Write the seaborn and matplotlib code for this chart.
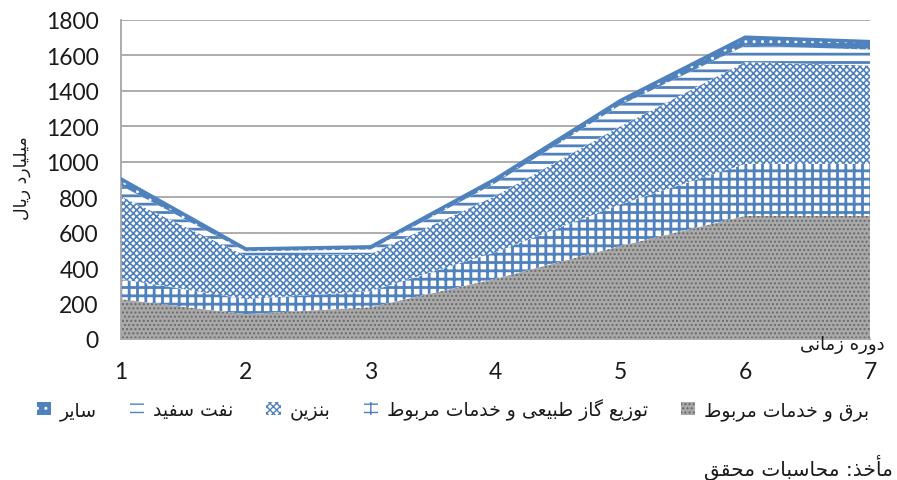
import numpy as np
import seaborn as sns
import matplotlib.pyplot as plt
from matplotlib.patches import Patch

# values (billion rials), stacked bottom -> top
periods = [1, 2, 3, 4, 5, 6, 7]
barq = [225, 140, 180, 340, 525, 695, 695]       # electricity
gas = [113, 85, 90, 150, 235, 293, 293]          # gas distribution
benzin = [467, 245, 210, 318, 440, 575, 555]     # gasoline
naft = [60, 25, 25, 72, 120, 92, 90]             # kerosene
sayer = [38, 13, 15, 23, 25, 48, 45]             # other
yticks = list(range(0, 1801, 200))

# persian labels (logical order, shaped below)
lbl_barq = "برق و خدمات مربوط"
lbl_gas = "توزیع گاز طبیعی و خدمات مربوط"
lbl_benzin = "بنزین"
lbl_naft = "نفت سفید"
lbl_sayer = "سایر"
ylabel = "میلیارد ریال"
xlabel = "دوره زمانی"
source = "مأخذ: محاسبات محقق"

# presentation forms: isolated, final, initial, medial
FORMS = {
    'ا': ('\uFE8D', '\uFE8E', None, None),
    'أ': ('\uFE83', '\uFE84', None, None),
    'ب': ('\uFE8F', '\uFE90', '\uFE91', '\uFE92'),
    'ت': ('\uFE95', '\uFE96', '\uFE97', '\uFE98'),
    'ح': ('\uFEA1', '\uFEA2', '\uFEA3', '\uFEA4'),
    'خ': ('\uFEA5', '\uFEA6', '\uFEA7', '\uFEA8'),
    'د': ('\uFEA9', '\uFEAA', None, None),
    'ذ': ('\uFEAB', '\uFEAC', None, None),
    'ر': ('\uFEAD', '\uFEAE', None, None),
    'ز': ('\uFEAF', '\uFEB0', None, None),
    'س': ('\uFEB1', '\uFEB2', '\uFEB3', '\uFEB4'),
    'ط': ('\uFEC1', '\uFEC2', '\uFEC3', '\uFEC4'),
    'ع': ('\uFEC9', '\uFECA', '\uFECB', '\uFECC'),
    'ف': ('\uFED1', '\uFED2', '\uFED3', '\uFED4'),
    'ق': ('\uFED5', '\uFED6', '\uFED7', '\uFED8'),
    'ل': ('\uFEDD', '\uFEDE', '\uFEDF', '\uFEE0'),
    'م': ('\uFEE1', '\uFEE2', '\uFEE3', '\uFEE4'),
    'ن': ('\uFEE5', '\uFEE6', '\uFEE7', '\uFEE8'),
    'ه': ('\uFEE9', '\uFEEA', '\uFEEB', '\uFEEC'),
    'و': ('\uFEED', '\uFEEE', None, None),
    'ی': ('\uFBFC', '\uFBFD', '\uFBFE', '\uFBFF'),
    'گ': ('\uFB92', '\uFB93', '\uFB94', '\uFB95'),
}


def shape(text):
    out = []
    for i, c in enumerate(text):
        if c not in FORMS:
            out.append(c)
            continue
        iso, fin, ini, med = FORMS[c]
        prev = text[i - 1] if i > 0 else None
        nxt = text[i + 1] if i + 1 < len(text) else None
        joins_prev = prev in FORMS and FORMS[prev][2] is not None
        joins_next = ini is not None and nxt in FORMS
        if joins_prev and joins_next:
            out.append(med)
        elif joins_prev:
            out.append(fin)
        elif joins_next:
            out.append(ini)
        else:
            out.append(iso)
    return ''.join(reversed(out))


sns.set_theme(style="white")
plt.rcParams['font.family'] = ['Lato', 'DejaVu Sans']
fa = ['DejaVu Sans']

blue = '#4f81bd'
grey_grid = '#a6a6a6'
txt = '#1a1a1a'

fig = plt.figure(figsize=(8.97, 4.81), dpi=100)
ax = fig.add_axes([121 / 897, 1 - 340 / 481, (870 - 121) / 897, (340 - 21) / 481])

x = np.array(periods)
layers = [barq, gas, benzin, naft, sayer]
tops = np.cumsum(np.array(layers), axis=0)
bottoms = np.vstack([np.zeros(len(x)), tops[:-1]])

styles = [
    dict(facecolor='#a9a9a9', edgecolor='#6a6a6a', hatch='....', hlw=1.0),
    dict(facecolor='white', edgecolor=blue, hatch='++', hlw=2.0),
    dict(facecolor='white', edgecolor=blue, hatch='xxxxx', hlw=1.2),
    dict(facecolor='white', edgecolor=blue, hatch='--', hlw=2.0),
    dict(facecolor=blue, edgecolor='white', hatch='..', hlw=1.0),
]
labels = [lbl_barq, lbl_gas, lbl_benzin, lbl_naft, lbl_sayer]

handles = []
for bot, top, st, lab in zip(bottoms, tops, styles, labels):
    plt.rcParams['hatch.linewidth'] = st['hlw']
    ax.fill_between(x, bot, top, facecolor=st['facecolor'], edgecolor=st['edgecolor'],
                    hatch=st['hatch'], linewidth=0, zorder=2)
    handles.append(Patch(facecolor=st['facecolor'], edgecolor=st['edgecolor'],
                         hatch=st['hatch'], linewidth=0, label=shape(lab)))

# outline of the top band
sns.lineplot(x=x, y=tops[-1], color=blue, linewidth=2.5, ax=ax, zorder=3)

ax.set_xlim(1, 7)
ax.set_ylim(0, 1800)
ax.set_yticks(yticks)
ax.set_xticks(periods)
ax.yaxis.grid(True, color=grey_grid, linewidth=1.3)
ax.set_axisbelow(True)
for s in ['top', 'right']:
    ax.spines[s].set_visible(False)
for s in ['left', 'bottom']:
    ax.spines[s].set_color(grey_grid)
    ax.spines[s].set_linewidth(1.3)
ax.tick_params(axis='y', length=0, pad=16, labelsize=16.5, colors=txt)
ax.tick_params(axis='x', length=0, pad=16, labelsize=16.5, colors=txt)
ax.set_xlabel('')
ax.set_ylabel('')

fig.text(22 / 897, 1 - 178 / 481, shape(ylabel), rotation=90, ha='center', va='center',
         fontsize=12.5, family=fa, color=txt)
fig.text(885 / 897, 1 - 345 / 481, shape(xlabel), ha='right', va='center',
         fontsize=13, family=fa, color=txt)
fig.text(893 / 897, 1 - 467 / 481, shape(source), ha='right', va='center',
         fontsize=14.5, family=fa, color=txt)

# legend reads right-to-left in the reference
leg = fig.legend(handles=handles[::-1], loc='center', ncol=5,
                 bbox_to_anchor=(453 / 897, 1 - 410 / 481), frameon=False,
                 handlelength=0.75, handleheight=0.75, handletextpad=0.5,
                 columnspacing=1.75, prop={'family': fa, 'size': 13.5})
for t in leg.get_texts():
    t.set_color(txt)

fig.savefig('out.png', dpi=100)
